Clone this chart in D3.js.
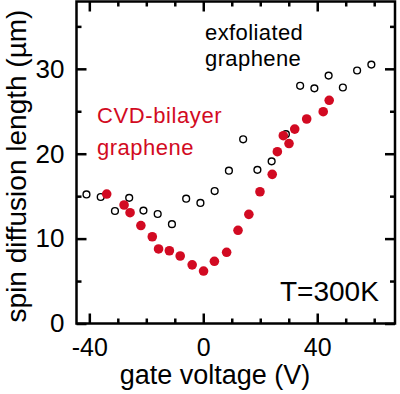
<!DOCTYPE html>
<html>
<head>
<meta charset="utf-8">
<script src="https://cdn.jsdelivr.net/npm/d3@7"></script>
<style>
  body { margin: 0; background: #fff; }
  text { font-family: "Liberation Sans", Arial, sans-serif; }
</style>
</head>
<body>
<script>
// data
const exfoliatedV = [-41, -36, -31, -26, -21, -16, -11, -6, -1, 4, 9, 14, 19, 24, 29, 34, 39, 44, 49, 54, 59];
const exfoliatedL = [15.2, 14.9, 13.25, 14.8, 13.3, 12.9, 11.7, 14.7, 14.2, 15.6, 18.0, 21.7, 18.1, 19.1, 22.3, 28.0, 27.7, 29.2, 27.8, 29.8, 30.5];

const cvdV = [-33.9, -27.8, -25.7, -21.9, -17.9, -15.7, -11.9, -8.1, -3.9, 0.1, 3.9, 8.2, 12.2, 16.0, 19.9, 24.2, 26.0, 28.1, 30.1, 32.1, 36.3, 42.1, 44.2];
const cvdL = [15.25, 13.96, 13.05, 11.54, 10.22, 8.78, 8.57, 7.95, 6.91, 6.18, 7.33, 8.39, 10.98, 12.86, 15.52, 17.57, 20.24, 22.12, 21.2, 22.9, 24.09, 24.95, 26.29];

const xMajor = [-40, 0, 40];
const xMinor = [-30, -20, -10, 10, 20, 30, 50, 60];
const yMajor = [0, 10, 20, 30];
const yMinor = [5, 15, 25, 35];

const red = "#d20a22";

// chart size
const width = 400;
const height = 394;
const plotLeft = 76.5, plotRight = 395, plotTop = 1.5, plotBottom = 323.5;

// scales
const xScale = d3.scaleLinear().domain([-44.5, 67.3]).range([plotLeft, plotRight]);
const yScale = d3.scaleLinear().domain([0, 37.93]).range([plotBottom, plotTop]);

// svg
const svg = d3.select("body")
    .append("svg")
    .attr("width", width)
    .attr("height", height);

// plain hyphen for negatives, like the original
const fmt = d => String(d);

// inward ticks on all four sides
function styleAxis(g, size) {
    g.select(".domain").remove();
    g.selectAll("line").attr("stroke", "#000").attr("stroke-width", 2.5);
    g.selectAll("text").attr("font-size", size).attr("fill", "#000")
        .attr("font-family", "Liberation Sans, Arial, sans-serif");
}

svg.append("g")
    .attr("transform", "translate(0," + plotBottom + ")")
    .call(d3.axisBottom(xScale).tickValues(xMajor).tickSize(-10).tickPadding(15).tickFormat(fmt))
    .call(g => styleAxis(g, 25));
svg.append("g")
    .attr("transform", "translate(0," + plotBottom + ")")
    .call(d3.axisBottom(xScale).tickValues(xMinor).tickSize(-5).tickFormat(""))
    .call(g => styleAxis(g, 0));
svg.append("g")
    .attr("transform", "translate(0," + plotTop + ")")
    .call(d3.axisTop(xScale).tickValues(xMajor).tickSize(-10).tickFormat(""))
    .call(g => styleAxis(g, 0));
svg.append("g")
    .attr("transform", "translate(0," + plotTop + ")")
    .call(d3.axisTop(xScale).tickValues(xMinor).tickSize(-5).tickFormat(""))
    .call(g => styleAxis(g, 0));

svg.append("g")
    .attr("transform", "translate(" + plotLeft + ",0)")
    .call(d3.axisLeft(yScale).tickValues(yMajor).tickSize(-10).tickPadding(12).tickFormat(fmt))
    .call(g => styleAxis(g, 26));
svg.append("g")
    .attr("transform", "translate(" + plotLeft + ",0)")
    .call(d3.axisLeft(yScale).tickValues(yMinor).tickSize(-5).tickFormat(""))
    .call(g => styleAxis(g, 0));
svg.append("g")
    .attr("transform", "translate(" + plotRight + ",0)")
    .call(d3.axisRight(yScale).tickValues(yMajor).tickSize(-10).tickFormat(""))
    .call(g => styleAxis(g, 0));
svg.append("g")
    .attr("transform", "translate(" + plotRight + ",0)")
    .call(d3.axisRight(yScale).tickValues(yMinor).tickSize(-5).tickFormat(""))
    .call(g => styleAxis(g, 0));

// frame
svg.append("rect")
    .attr("x", plotLeft).attr("y", plotTop)
    .attr("width", plotRight - plotLeft).attr("height", plotBottom - plotTop)
    .attr("fill", "none").attr("stroke", "#000").attr("stroke-width", 2.5);

// exfoliated graphene (open circles)
svg.selectAll("circle.exf")
    .data(exfoliatedV)
    .enter()
    .append("circle")
    .attr("class", "exf")
    .attr("cx", d => xScale(d))
    .attr("cy", (d, i) => yScale(exfoliatedL[i]))
    .attr("r", 3.4)
    .attr("fill", "#fff")
    .attr("stroke", "#000")
    .attr("stroke-width", 1.4);

// CVD bilayer (filled red)
svg.selectAll("circle.cvd")
    .data(cvdV)
    .enter()
    .append("circle")
    .attr("class", "cvd")
    .attr("cx", d => xScale(d))
    .attr("cy", (d, i) => yScale(cvdL[i]))
    .attr("r", 4.8)
    .attr("fill", red);

// labels
svg.append("text").attr("x", 205).attr("y", 40).attr("font-size", 22).attr("letter-spacing", 0.4).text("exfoliated");
svg.append("text").attr("x", 205).attr("y", 66).attr("font-size", 22).attr("letter-spacing", 0.4).text("graphene");
svg.append("text").attr("x", 97).attr("y", 123).attr("font-size", 22).attr("letter-spacing", 0.6).attr("fill", red).text("CVD-bilayer");
svg.append("text").attr("x", 97).attr("y", 155).attr("font-size", 22).attr("letter-spacing", 0.5).attr("fill", red).text("graphene");
svg.append("text").attr("x", 280).attr("y", 301).attr("font-size", 28).text("T=300K");

// axis titles
svg.append("text")
    .attr("x", 215).attr("y", 384)
    .attr("text-anchor", "middle")
    .attr("font-size", 27)
    .text("gate voltage (V)");
svg.append("text")
    .attr("transform", "translate(26,166) rotate(-90)")
    .attr("text-anchor", "middle")
    .attr("font-size", 28)
    .text("spin diffusion length (µm)");
</script>
</body>
</html>
